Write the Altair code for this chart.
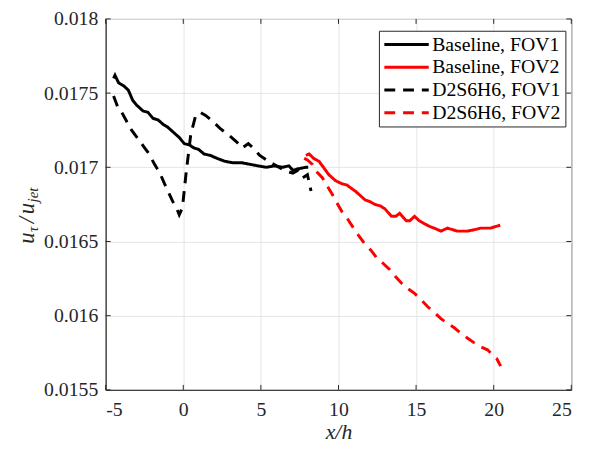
import altair as alt
import pandas as pd

# ---- data ----
base1_x = [-4.49, -4.4, -4.17, -3.85, -3.54, -3.25, -3.01, -2.6, -2.27, -1.95, -1.63, -1.3, -1.0, -0.57, -0.25, 0.06,
           0.4, 0.7, 1.0, 1.33, 1.75, 2.18, 2.7, 3.24, 3.8, 4.3, 4.8, 5.36, 5.9, 6.4, 6.8, 7.06, 7.4, 7.9, 8.05]
base1_y = [0.01760, 0.01762, 0.01757, 0.01755, 0.01752, 0.01745, 0.01742, 0.01738, 0.01737, 0.01733, 0.01732, 0.01729,
           0.01727, 0.01723, 0.01720, 0.01716, 0.01715, 0.01713, 0.01712, 0.01709, 0.01708, 0.01706, 0.01704, 0.01703,
           0.01703, 0.01702, 0.01701, 0.01700, 0.01701, 0.01700, 0.01701, 0.01698, 0.01699, 0.01700, 0.01700]

d1_x = [-4.49, -4.2, -3.96, -3.65, -3.33, -2.9, -2.48, -2.2, -1.85, -1.5, -1.21, -0.9, -0.68, -0.45, -0.26, -0.05, 0.17,
        0.48, 0.8, 1.1, 1.44, 1.9, 2.39, 2.9, 3.45, 3.8, 4.19, 4.5, 4.93, 5.5, 5.99, 6.5, 7.06, 7.4, 7.7, 8.0, 8.23]
d1_y = [0.01748, 0.01740, 0.01737, 0.01731, 0.01725, 0.01719, 0.01713, 0.01709, 0.01702, 0.01696, 0.01689, 0.01682,
        0.01677, 0.01673, 0.01668, 0.01673, 0.01695, 0.01722, 0.01735, 0.01737, 0.01735, 0.01731, 0.01726, 0.01722,
        0.01717, 0.01713, 0.01716, 0.01713, 0.01708, 0.01704, 0.01701, 0.01698, 0.01696, 0.01698, 0.01693, 0.01695,
        0.01684]

base2_x = [7.9, 8.11, 8.4, 8.75, 9.1, 9.38, 9.81, 10.2, 10.55, 10.8, 11.08, 11.4, 11.72, 12.0, 12.35, 12.7, 12.99, 13.41,
           13.7, 13.94, 14.37, 14.6, 14.9, 15.2, 15.53, 15.9, 16.17, 16.6, 17.02, 17.66, 18.3, 18.8, 19.15, 19.5, 19.79,
           20.1, 20.42]
base2_y = [0.01708, 0.01709, 0.01706, 0.01704, 0.01699, 0.01695, 0.01691, 0.01689, 0.01688, 0.01686, 0.01684, 0.01681,
           0.01678, 0.01677, 0.01675, 0.01674, 0.01672, 0.01667, 0.01667, 0.01669, 0.01664, 0.01664, 0.01667, 0.01664,
           0.01662, 0.01660, 0.01659, 0.01657, 0.01659, 0.01657, 0.01657, 0.01658, 0.01659, 0.01659, 0.01659, 0.01660,
           0.01661]

d2_x = [7.79, 8.0, 8.32, 8.6, 8.96, 9.3, 9.59, 9.9, 10.23, 10.6, 10.97, 11.3, 11.72, 12.1, 12.46, 12.9, 13.31, 13.7,
        14.05, 14.5, 14.9, 15.3, 15.75, 16.2, 16.6, 17.0, 17.44, 17.9, 18.3, 18.7, 19.15, 19.6, 19.99, 20.2, 20.45]
d2_y = [0.01706, 0.01705, 0.01702, 0.01697, 0.01693, 0.01687, 0.01682, 0.01676, 0.01670, 0.01665, 0.01659, 0.01654,
        0.01648, 0.01644, 0.01639, 0.01635, 0.01631, 0.01626, 0.01622, 0.01618, 0.01615, 0.01611, 0.01606, 0.01602,
        0.01598, 0.01595, 0.01592, 0.01588, 0.01585, 0.01582, 0.01579, 0.01577, 0.01573, 0.01571, 0.01566]

series_names = ["Baseline, FOV1", "Baseline, FOV2", "D2S6H6, FOV1", "D2S6H6, FOV2"]
series_colors = ["#000000", "#ff0000", "#000000", "#ff0000"]
series_dash = [[1, 0], [1, 0], [11, 8], [11, 8]]

x_ticks = [-5, 0, 5, 10, 15, 20, 25]
y_ticks = [0.0155, 0.016, 0.0165, 0.017, 0.0175, 0.018]

rows = []
for name, xs, ys in zip(series_names, [base1_x, base2_x, d1_x, d2_x], [base1_y, base2_y, d1_y, d2_y]):
    for i, (xv, yv) in enumerate(zip(xs, ys)):
        rows.append({"series": name, "x": xv, "y": yv, "order": i})
df = pd.DataFrame(rows)

W, H = 472, 376
AX = "#262626"
FONT = "Liberation Serif, Times New Roman, Times, DejaVu Serif, serif"

xs = alt.Scale(domain=[-5, 25], nice=False, zero=False)
ys = alt.Scale(domain=[0.0155, 0.018], nice=False, zero=False)

lines = alt.Chart(df).mark_line(strokeWidth=3, clip=True).encode(
    x=alt.X("x:Q", scale=xs,
            axis=alt.Axis(values=x_ticks, title="x/h", titleFontStyle="italic", titleFontWeight="normal",
                          labelExpr="(datum.value < 0 ? '-' : '') + abs(datum.value)",
                          labelPadding=10, titlePadding=2)),
    y=alt.Y("y:Q", scale=ys,
            axis=alt.Axis(values=y_ticks, format=".4~f", title=None, labelPadding=8)),
    color=alt.Color("series:N", scale=alt.Scale(domain=series_names, range=series_colors),
                    legend=alt.Legend(title=None, orient="none", legendX=277, legendY=12,
                                      symbolType="stroke", symbolSize=2025, symbolStrokeWidth=3,
                                      labelFont=FONT, labelFontSize=20, labelColor="#000000",
                                      fillColor="white", strokeColor=AX, padding=4, rowPadding=3,
                                      clipHeight=20, labelOffset=2, offset=0)),
    strokeDash=alt.StrokeDash("series:N", scale=alt.Scale(domain=series_names, range=series_dash),
                              legend=alt.Legend(title=None)),
    order="order:Q",
)

xt = pd.DataFrame({"v": x_ticks})
yt = pd.DataFrame({"v": y_ticks})
tick_style = dict(color=AX, strokeWidth=1)
bot = alt.Chart(xt).mark_rule(**tick_style).encode(x=alt.X("v:Q", scale=xs), y=alt.value(H), y2=alt.value(H - 5))
top = alt.Chart(xt).mark_rule(**tick_style).encode(x=alt.X("v:Q", scale=xs), y=alt.value(0), y2=alt.value(5))
left = alt.Chart(yt).mark_rule(**tick_style).encode(y=alt.Y("v:Q", scale=ys), x=alt.value(0), x2=alt.value(5))
right = alt.Chart(yt).mark_rule(**tick_style).encode(y=alt.Y("v:Q", scale=ys), x=alt.value(W), x2=alt.value(W - 5))

# y-axis title u_tau / u_jet built from pieces (rotated, reading upward)
one = alt.Data(values=[{}])
title_pieces = [("u", 23, 0, 228), ("τ", 15, 4, 216), ("/", 23, 0, 207), ("u", 23, 0, 198), ("jet", 15, 4, 186)]
ytitle = [
    alt.Chart(one).mark_text(text=t, font=FONT, fontSize=fs, fontStyle="italic", color=AX, angle=270,
                             align="left", baseline="alphabetic").encode(x=alt.value(-73 + dx), y=alt.value(py))
    for t, fs, dx, py in title_pieces
]

chart = alt.layer(bot, top, left, right, lines, *ytitle).properties(
    width=W, height=H,
    background="white",
    autosize=alt.AutoSizeParams(type="none"),
    padding={"left": 99, "top": 8, "right": 22, "bottom": 67},
).configure_view(stroke=AX, strokeWidth=1).configure_axis(
    labelFont=FONT, labelFontSize=20, labelColor="#262626",
    titleFont=FONT, titleFontSize=22, titleColor="#262626",
    grid=True, gridColor="#e5e5e5", gridWidth=1,
    domainColor=AX, tickSize=0, ticks=False,
)

chart.save("out.html", embed_options={"renderer": "svg", "actions": False})
